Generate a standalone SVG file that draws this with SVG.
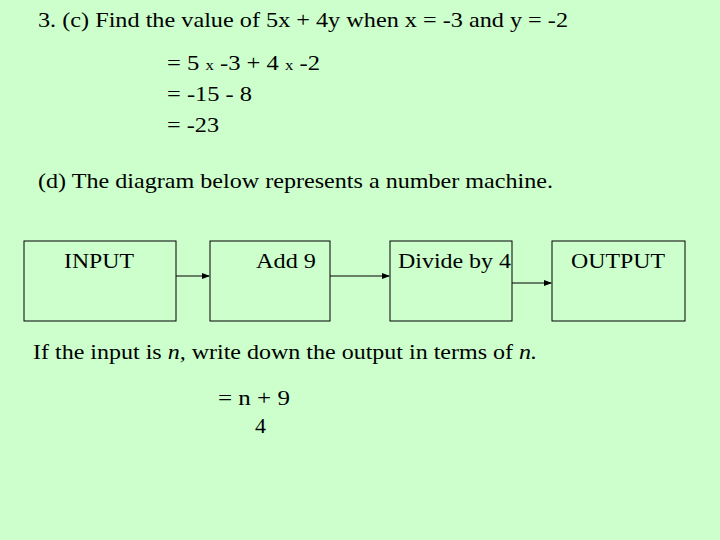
<svg xmlns="http://www.w3.org/2000/svg" width="720" height="540" viewBox="0 0 720 540">
<style>
text{font-family:"Liberation Serif",serif;font-size:22px;fill:#000}
.b{fill:none;stroke:#000;stroke-width:1}
.c{stroke:#000;stroke-width:1;fill:none;marker-end:url(#a)}
</style>
<defs><marker id="a" markerWidth="8" markerHeight="8" refX="7" refY="4" orient="auto" markerUnits="userSpaceOnUse"><path d="M0,1 L8,4 L0,7z" fill="#000"/></marker></defs>
<rect width="720" height="540" fill="#ccffcc"/>
<text x="38" y="27" textLength="530" lengthAdjust="spacingAndGlyphs">3. (c) Find the value of  5x + 4y when x = -3 and y = -2</text>
<text x="167" y="70" textLength="153" lengthAdjust="spacingAndGlyphs">= 5 <tspan font-size="15">x</tspan> -3 + 4 <tspan font-size="15">x</tspan> -2</text>
<text x="167" y="101" textLength="85" lengthAdjust="spacingAndGlyphs">= -15 - 8</text>
<text x="167" y="132" textLength="52" lengthAdjust="spacingAndGlyphs">= -23</text>
<text x="38" y="188" textLength="515" lengthAdjust="spacingAndGlyphs">(d) The diagram below represents a number machine.</text>
<g id="input"><rect class="b" x="24" y="241" width="152" height="80"/><text x="64" y="268" textLength="70" lengthAdjust="spacingAndGlyphs">INPUT</text></g>
<g id="add9"><rect class="b" x="210" y="241" width="120" height="80"/><text x="256" y="268" textLength="60" lengthAdjust="spacingAndGlyphs">Add 9</text></g>
<g id="divide"><rect class="b" x="390" y="241" width="122" height="80"/><text x="398" y="268" textLength="113" lengthAdjust="spacingAndGlyphs">Divide by 4</text></g>
<g id="output"><rect class="b" x="552" y="241" width="133" height="80"/><text x="571" y="268" textLength="94" lengthAdjust="spacingAndGlyphs">OUTPUT</text></g>
<g id="connectors">
<path class="c" d="M176,276 H209"/>
<path class="c" d="M330,276 H389"/>
<path class="c" d="M512,283 H551"/>
</g>
<text x="33" y="359" textLength="504" lengthAdjust="spacingAndGlyphs">If the input is <tspan font-style="italic">n,</tspan> write down the output in terms of <tspan font-style="italic">n.</tspan></text>
<text x="218" y="405" textLength="72" lengthAdjust="spacingAndGlyphs">= n + 9</text>
<text x="255" y="433">4</text>
</svg>
